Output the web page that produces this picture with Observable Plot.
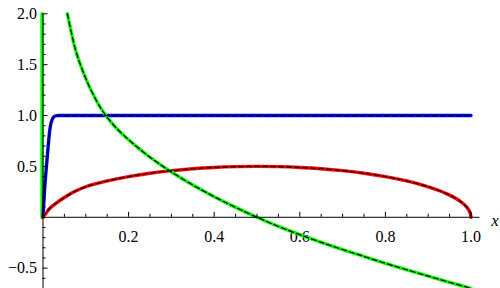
<!DOCTYPE html>
<html><head><meta charset="utf-8">
<script src="https://cdn.jsdelivr.net/npm/d3@7"></script>
<script src="https://cdn.jsdelivr.net/npm/@observablehq/plot@0.6"></script>
<style>html,body{margin:0;padding:0;background:#fff;} svg{display:block}</style>
</head><body><div id="chart"></div>
<script>
// Axis ranges and ticks
const xDomain = [0, 1];
const yDomain = [-0.70, 2.0];
const xMajor = [0.2, 0.4, 0.6, 0.8, 1.0];
const xMinor = [0.05, 0.1, 0.15, 0.25, 0.3, 0.35, 0.45, 0.5, 0.55, 0.65, 0.7, 0.75, 0.85, 0.9, 0.95];
const yMajor = [-0.5, 0.5, 1.0, 1.5, 2.0];
const yMinor = [-0.7, -0.6, -0.4, -0.3, -0.2, -0.1, 0.1, 0.2, 0.3, 0.4, 0.6, 0.7, 0.8, 0.9, 1.1, 1.2, 1.3, 1.4, 1.6, 1.7, 1.8, 1.9];
const axisTitle = "x";

// Blue curve
const blueX = [0, 0.002, 0.005, 0.008, 0.0105, 0.013, 0.016, 0.019, 0.023, 0.028, 0.035, 0.05, 0.1, 0.3, 0.6, 1.0];
const blueY = [0, 0.15, 0.35, 0.50, 0.62, 0.74, 0.86, 0.93, 0.975, 0.995, 1.0, 1.0, 1.0, 1.0, 1.0, 1.0];

// Red curve
const redX = [0, 0.004, 0.008, 0.013, 0.019, 0.031, 0.05, 0.075, 0.1, 0.15, 0.2, 0.25, 0.3, 0.35, 0.4, 0.45, 0.5, 0.55, 0.6, 0.65, 0.7, 0.75, 0.8, 0.85, 0.9, 0.925, 0.95, 0.965, 0.98, 0.99, 0.995, 0.998, 1.0];
const redY = [0, 0.025, 0.045, 0.075, 0.10, 0.14, 0.195, 0.255, 0.30, 0.357, 0.40, 0.433, 0.458, 0.477, 0.49, 0.4975, 0.50, 0.4975, 0.49, 0.477, 0.458, 0.433, 0.40, 0.357, 0.30, 0.263, 0.218, 0.184, 0.14, 0.10, 0.07, 0.045, 0];

// Green curve (visible part, entering at the top edge)
const greenX = [0.057, 0.065, 0.0723, 0.080, 0.090, 0.100, 0.111, 0.125, 0.136, 0.147, 0.160, 0.175, 0.190, 0.200, 0.220, 0.250, 0.275, 0.300, 0.350, 0.400, 0.450, 0.500, 0.550, 0.600, 0.650, 0.700, 0.750, 0.800, 0.850, 0.900, 0.950, 1.000];
const greenY = [2.00, 1.84, 1.705, 1.59, 1.47, 1.365, 1.26, 1.145, 1.065, 1.00, 0.93, 0.86, 0.80, 0.762, 0.69, 0.59, 0.515, 0.445, 0.3175, 0.2025, 0.0975, 0.0, -0.09, -0.171, -0.246, -0.317, -0.385, -0.452, -0.516, -0.578, -0.639, -0.698];
// Green near-vertical rise at x = 0
const greenEdgeX = [0, 0];
const greenEdgeY = [0, 2.0];

const rows = (xs, ys) => xs.map((x, i) => ({x, y: ys[i]}));
const blue = rows(blueX, blueY);
const red = rows(redX, redY);
const green = rows(greenX, greenY);
const greenEdge = rows(greenEdgeX, greenEdgeY);

const fmt = d => (d < 0 ? "\u2212" : "") + Math.abs(d).toFixed(1);
const W = 3.4, DW = 1.2, DASH = "5,3";
const FONT = "Liberation Serif";
const FS = 16;

const chart = Plot.plot({
  width: 500, height: 288,
  marginLeft: 42.5, marginRight: 29.5, marginTop: 13.3, marginBottom: 0,
  x: {domain: xDomain, axis: null},
  y: {domain: yDomain, axis: null},
  marks: [
    // tick labels and axis title
    Plot.text(xMajor, {x: d => d, y: 0, text: fmt, dy: 20, fill: "black", fontFamily: FONT, fontSize: FS}),
    Plot.text(yMajor, {x: 0, y: d => d, text: fmt, dx: -6, textAnchor: "end", fill: "black", fontFamily: FONT, fontSize: FS}),
    Plot.text([axisTitle], {x: xDomain[1], y: 0, text: d => d, dx: 24, dy: 3, fontStyle: "italic", fill: "black", fontFamily: FONT, fontSize: FS + 1}),
    // colored curves
    Plot.line(greenEdge, {x: "x", y: "y", stroke: "#00ff00", strokeWidth: W, dx: -1}),
    Plot.line(blue, {x: "x", y: "y", stroke: "#0000ff", strokeWidth: W, curve: "catmull-rom"}),
    Plot.line(red, {x: "x", y: "y", stroke: "#ff0000", strokeWidth: W, curve: "catmull-rom"}),
    Plot.line(green, {x: "x", y: "y", stroke: "#00ff00", strokeWidth: W, curve: "catmull-rom"}),
    // dashed black overlays
    Plot.line(blue, {x: "x", y: "y", stroke: "black", strokeWidth: DW, strokeDasharray: DASH, curve: "catmull-rom"}),
    Plot.line(red, {x: "x", y: "y", stroke: "black", strokeWidth: DW, strokeDasharray: DASH, curve: "catmull-rom"}),
    Plot.line(green, {x: "x", y: "y", stroke: "black", strokeWidth: DW, strokeDasharray: DASH, curve: "catmull-rom"}),
    // axes
    Plot.ruleY([0], {x1: xDomain[0], x2: xDomain[1], insetRight: -9, stroke: "black", strokeWidth: 1}),
    Plot.ruleX([0], {y1: yDomain[0], y2: yDomain[1], stroke: "black", strokeWidth: 1}),
    Plot.ruleX(xMajor, {x: d => d, y1: 0, y2: 0, insetTop: -5, stroke: "black"}),
    Plot.ruleX(xMinor, {x: d => d, y1: 0, y2: 0, insetTop: -3, stroke: "black"}),
    Plot.ruleY(yMajor, {y: d => d, x1: 0, x2: 0, insetRight: -5, stroke: "black"}),
    Plot.ruleY(yMinor, {y: d => d, x1: 0, x2: 0, insetRight: -3, stroke: "black"})
  ]
});
chart.setAttribute("font-family", FONT);
chart.setAttribute("font-size", FS);
chart.querySelectorAll("text").forEach(t => {
  t.setAttribute("font-family", FONT);
  t.setAttribute("font-size", t.textContent === axisTitle ? FS + 1 : FS);
  t.style.fontFamily = FONT;
  t.style.fontSize = (t.textContent === axisTitle ? FS + 1 : FS) + "px";
  if (t.textContent === axisTitle) t.style.fontStyle = "italic";
});
document.getElementById("chart").append(chart);
</script>
</body></html>
